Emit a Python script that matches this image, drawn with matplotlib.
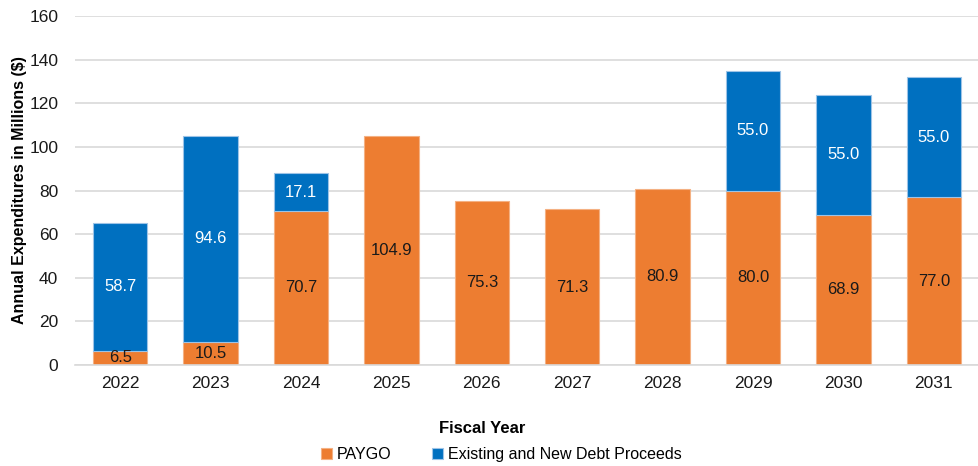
import matplotlib.pyplot as plt
import numpy as np

plt.rcParams['font.family'] = ['Liberation Sans', 'DejaVu Sans']

years = ['2022', '2023', '2024', '2025', '2026', '2027', '2028', '2029', '2030', '2031']
paygo = [6.5, 10.5, 70.7, 104.9, 75.3, 71.3, 80.9, 80.0, 68.9, 77.0]
debt = [58.7, 94.6, 17.1, 0, 0, 0, 0, 55.0, 55.0, 55.0]

orange = '#ED7D31'
blue = '#0070C0'

fig = plt.figure(figsize=(9.79, 4.66), dpi=100)
ax = fig.add_axes([0.0766, 0.2167, 0.9234, 0.749])

x = np.arange(len(years))
w = 0.6
b1 = ax.bar(x, paygo, w, color=orange, edgecolor='#F4B183', linewidth=0.8, label='PAYGO', zorder=2)
b2 = ax.bar(x, debt, w, bottom=paygo, color=blue, edgecolor='#9DC3E6', linewidth=0.8,
            label='Existing and New Debt Proceeds', zorder=2)
for p, d in zip(b2.patches, debt):
    if d == 0:
        p.set_visible(False)

for i in range(len(years)):
    ax.text(x[i], paygo[i] / 2, f'{paygo[i]:.1f}', ha='center', va='center',
            fontsize=12, color='#1a1a1a', zorder=3)
    if debt[i] > 0:
        ax.text(x[i], paygo[i] + debt[i] / 2, f'{debt[i]:.1f}', ha='center', va='center',
                fontsize=12, color='white', zorder=3)

ax.set_xlim(-0.5, len(years) - 0.5)
ax.set_ylim(0, 160)
ax.set_yticks(range(0, 161, 20))
ax.set_xticks(x)
ax.set_xticklabels(years)
ax.tick_params(length=0, labelsize=12.5, colors='#1a1a1a')
ax.tick_params(axis='x', pad=8)
ax.tick_params(axis='y', pad=12)
ax.yaxis.grid(True, color='#d9d9d9', linewidth=1.2, zorder=0)
ax.set_axisbelow(True)
for s in ['top', 'right', 'left']:
    ax.spines[s].set_visible(False)
ax.spines['bottom'].set_color('#d9d9d9')
ax.spines['bottom'].set_linewidth(1.2)

ax.set_xlabel('Fiscal Year', fontsize=12, fontweight='bold')
ax.xaxis.set_label_coords(0.45, -0.16)
ax.set_ylabel('Annual Expenditures in Millions ($)', fontsize=11.5, fontweight='bold')
ax.yaxis.set_label_coords(-0.053, 0.5)

fig.legend(handles=[b1, b2], loc='center', bbox_to_anchor=(0.512, 0.024), ncol=2,
           frameon=False, fontsize=11.5, handlelength=0.7, handleheight=0.7,
           handletextpad=0.3, columnspacing=2.5)

fig.savefig('out.png', dpi=100)
